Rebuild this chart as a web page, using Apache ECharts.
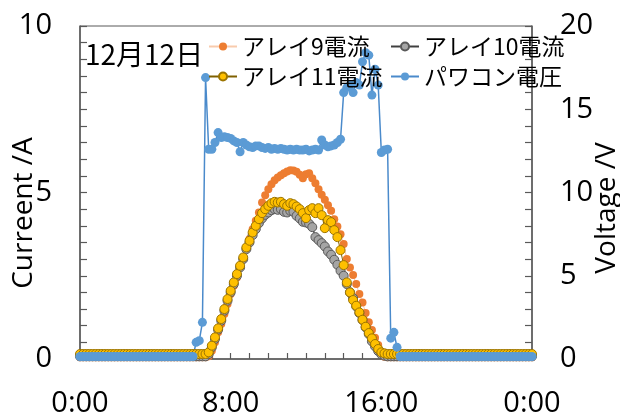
<!DOCTYPE html>
<html><head><meta charset="utf-8">
<script src="https://cdn.jsdelivr.net/npm/echarts@6/dist/echarts.min.js"></script>
<style>html,body{margin:0;padding:0;background:#fff;}#c{width:620px;height:419px;}</style>
</head><body><div id="c"></div>
<script>
// 10-minute samples from 0:00 to 24:00 (145 points)
const times = [];
for (let i = 0; i <= 144; i++) {
  const h = Math.floor(i / 6) % 24, m = (i % 6) * 10;
  times.push(h + ':' + (m < 10 ? '0' + m : m));
}
const seriesNames = ['アレイ9電流', 'アレイ10電流', 'アレイ11電流', 'パワコン電圧'];
const titleText = '12月12日';
const xTickLabels = ['0:00', '8:00', '16:00', '0:00'];
const leftAxisTitle = 'Curreent /A';
const rightAxisTitle = 'Voltage /V';

// アレイ9電流 (A)
const array9 = [
0.05,0.05,0.05,0.05,0.05,0.05,0.05,0.05,0.05,0.05,
0.05,0.05,0.05,0.05,0.05,0.05,0.05,0.05,0.05,0.05,
0.05,0.05,0.05,0.05,0.05,0.05,0.05,0.05,0.05,0.05,
0.05,0.05,0.05,0.05,0.05,0.05,0.05,0.05,0.05,0.05,
0.05,
0.08,0.25,0.5,0.8,1.05,1.35,1.65,1.95,2.2,2.45,
2.75,3.0,3.3,3.6,3.9,4.15,4.4,4.7,4.92,5.1,
5.25,5.37,5.45,5.52,5.58,5.63,5.67,5.66,5.62,5.53,
5.43,5.55,5.58,5.43,5.28,5.1,4.93,4.78,4.62,4.45,
4.2,3.98,3.75,3.45,3.0,2.75,2.52,2.25,1.95,1.7,
1.38,1.1,0.87,0.64,0.42,0.2,0.07,
0.05,0.05,0.05,0.05,0.05,0.05,0.05,0.05,0.05,0.05,
0.05,0.05,0.05,0.05,0.05,0.05,0.05,0.05,0.05,0.05,
0.05,0.05,0.05,0.05,0.05,0.05,0.05,0.05,0.05,0.05,
0.05,0.05,0.05,0.05,0.05,0.05,0.05,0.05,0.05,0.05,
0.05,0.05,0.05,0.05,0.05,0.05,0.05
];
// アレイ10電流 (A)
const array10 = [
0.08,0.08,0.08,0.08,0.08,0.08,0.08,0.08,0.08,0.08,
0.08,0.08,0.08,0.08,0.08,0.08,0.08,0.08,0.08,0.08,
0.08,0.08,0.08,0.08,0.08,0.08,0.08,0.08,0.08,0.08,
0.08,0.08,0.08,0.08,0.08,0.08,0.08,0.08,0.08,0.08,
0.08,
0.15,0.35,0.6,0.88,1.15,1.45,1.75,2.0,2.25,2.5,
2.75,3.0,3.3,3.5,3.72,3.9,4.08,4.22,4.33,4.4,
4.47,4.5,4.48,4.5,4.42,4.4,4.45,4.42,4.3,4.22,
4.12,4.1,4.06,3.96,3.66,3.57,3.48,3.38,3.23,3.13,
2.98,2.83,2.65,2.5,2.25,2.0,1.83,1.58,1.38,1.17,
0.95,0.75,0.53,0.38,0.24,0.14,0.1,
0.08,0.08,0.08,0.08,0.08,0.08,0.08,0.08,0.08,0.08,
0.08,0.08,0.08,0.08,0.08,0.08,0.08,0.08,0.08,0.08,
0.08,0.08,0.08,0.08,0.08,0.08,0.08,0.08,0.08,0.08,
0.08,0.08,0.08,0.08,0.08,0.08,0.08,0.08,0.08,0.08,
0.08,0.08,0.08,0.08,0.08,0.08,0.08
];
// アレイ11電流 (A)
const array11 = [
0.15,0.15,0.15,0.15,0.15,0.15,0.15,0.15,0.15,0.15,
0.15,0.15,0.15,0.15,0.15,0.15,0.15,0.15,0.15,0.15,
0.15,0.15,0.15,0.15,0.15,0.15,0.15,0.15,0.15,0.15,
0.15,0.15,0.15,0.15,0.15,0.15,0.15,0.15,0.15,0.15,
0.15,
0.2,0.4,0.65,0.92,1.2,1.5,1.8,2.05,2.3,2.55,
2.8,3.05,3.35,3.55,3.8,4.0,4.2,4.38,4.5,4.6,
4.68,4.72,4.7,4.72,4.65,4.6,4.68,4.65,4.58,4.5,
4.38,4.23,4.47,4.53,4.38,4.53,4.32,3.93,4.17,4.11,
3.87,3.66,3.27,2.82,2.3,2.0,1.77,1.6,1.4,1.18,
0.97,0.78,0.62,0.45,0.3,0.2,0.17,0.15,
0.15,0.15,0.15,0.15,0.15,0.15,0.15,0.15,0.15,0.15,
0.15,0.15,0.15,0.15,0.15,0.15,0.15,0.15,0.15,0.15,
0.15,0.15,0.15,0.15,0.15,0.15,0.15,0.15,0.15,0.15,
0.15,0.15,0.15,0.15,0.15,0.15,0.15,0.15,0.15,0.15,
0.15,0.15,0.15,0.15,0.15,0.15
];
// パワコン電圧 (V)
const pcsVoltage = [
0.15,0.15,0.15,0.15,0.15,0.15,0.15,0.15,0.15,0.15,
0.15,0.15,0.15,0.15,0.15,0.15,0.15,0.15,0.15,0.15,
0.15,0.15,0.15,0.15,0.15,0.15,0.15,0.15,0.15,0.15,
0.15,0.15,0.15,0.15,0.15,0.15,0.15,
1.0,1.1,2.2,16.9,12.6,12.6,13.0,13.6,13.3,13.35,
13.3,13.25,13.1,13.0,12.45,13.0,12.85,12.75,12.7,12.8,
12.8,12.7,12.65,12.7,12.6,12.65,12.6,12.65,12.6,12.55,
12.6,12.55,12.6,12.55,12.55,12.6,12.5,12.55,12.6,12.55,
13.15,12.85,12.75,12.8,12.85,13.0,13.2,16.0,16.3,16.45,
16.0,16.6,16.45,17.85,18.4,18.25,15.85,17.4,16.45,12.4,
12.55,12.6,1.25,1.6,0.7,
0.15,0.15,0.15,0.15,0.15,0.15,0.15,0.15,0.15,0.15,
0.15,0.15,0.15,0.15,0.15,0.15,0.15,0.15,0.15,0.15,
0.15,0.15,0.15,0.15,0.15,0.15,0.15,0.15,0.15,0.15,
0.15,0.15,0.15,0.15,0.15,0.15,0.15,0.15,0.15,0.15,
0.15,0.15,0.15
];

const axisColor = '#595959';
const numFont = "'Liberation Sans Narrow', 'Open Sans', sans-serif";
const jpFont = "'Noto Sans CJK JP', sans-serif";

const chart = echarts.init(document.getElementById('c'), null, {renderer: 'canvas'});
chart.setOption({
  animation: false,
  backgroundColor: '#fff',
  grid: {left: 80, right: 88, top: 26, bottom: 60, containLabel: false, outerBoundsMode: 'none',
    show: true, borderColor: axisColor, borderWidth: 1, backgroundColor: 'transparent'},
  graphic: [{
    type: 'text', left: 85, top: 40,
    style: {text: titleText, font: "28px 'Noto Sans CJK JP'", fill: '#000'}
  }, {
    type: 'text', x: 24, y: 213, rotation: Math.PI / 2,
    style: {text: leftAxisTitle, font: "28px 'Open Sans'", fill: '#000', align: 'center', verticalAlign: 'middle'}
  }, {
    type: 'text', x: 607, y: 208, rotation: Math.PI / 2,
    style: {text: rightAxisTitle, font: "28px 'Open Sans'", fill: '#000', align: 'center', verticalAlign: 'middle'}
  }],
  legend: [{
    data: [seriesNames[0], seriesNames[2]], orient: 'vertical', left: 203, top: 30,
    itemWidth: 28, itemHeight: 10, itemGap: 7, selectedMode: false,
    textStyle: {fontFamily: jpFont, fontSize: 23, color: '#000'}
  }, {
    data: [seriesNames[1], seriesNames[3]], orient: 'vertical', left: 385, top: 30,
    itemWidth: 28, itemHeight: 10, itemGap: 7, selectedMode: false,
    textStyle: {fontFamily: jpFont, fontSize: 23, color: '#000'}
  }],
  xAxis: {
    type: 'category', data: times, boundaryGap: false,
    axisLine: {lineStyle: {color: axisColor, width: 1.5}},
    axisTick: {inside: true, interval: 5, length: 6, lineStyle: {color: axisColor, width: 1.2}},
    axisLabel: {interval: 47, margin: 30, fontFamily: numFont, fontSize: 29, color: '#000',
      formatter: function (v, idx) { return xTickLabels[Math.round(idx / 48)]; }},
    splitLine: {show: false}
  },
  yAxis: [{
    type: 'value', min: 0, max: 10, interval: 5, position: 'left',
    axisLine: {show: true, lineStyle: {color: axisColor, width: 1.5}},
    axisTick: {show: true, inside: true, length: 7, lineStyle: {color: axisColor, width: 1.2}},
    minorTick: {show: true, splitNumber: 10, length: 7, lineStyle: {color: axisColor, width: 1.2}},
    axisLabel: {margin: 28, fontFamily: numFont, fontSize: 29, color: '#000'},
    splitLine: {show: false}, minorSplitLine: {show: false}
  }, {
    type: 'value', min: 0, max: 20, interval: 5, position: 'right',
    axisLine: {show: true, lineStyle: {color: axisColor, width: 1.5}},
    axisTick: {show: true, inside: true, length: 7, lineStyle: {color: axisColor, width: 1.2}},
    minorTick: {show: true, splitNumber: 5, length: 7, lineStyle: {color: axisColor, width: 1.2}},
    axisLabel: {margin: 28, fontFamily: numFont, fontSize: 29, color: '#000'},
    splitLine: {show: false}, minorSplitLine: {show: false}
  }],
  series: [{
    name: seriesNames[0], type: 'line', yAxisIndex: 0, data: array9,
    symbol: 'circle', symbolSize: 8, showAllSymbol: true,
    itemStyle: {color: '#ED7D31'}, lineStyle: {color: '#F8CBAD', width: 1}
  }, {
    name: seriesNames[1], type: 'line', yAxisIndex: 0, data: array10,
    symbol: 'circle', symbolSize: 9, showAllSymbol: true,
    itemStyle: {color: '#A5A5A5', borderColor: '#595959', borderWidth: 1}, lineStyle: {color: '#404040', width: 1.5}
  }, {
    name: seriesNames[2], type: 'line', yAxisIndex: 0, data: array11,
    symbol: 'circle', symbolSize: 9, showAllSymbol: true,
    itemStyle: {color: '#FFC000', borderColor: '#9C7400', borderWidth: 1}, lineStyle: {color: '#7F6000', width: 1}
  }, {
    name: seriesNames[3], type: 'line', yAxisIndex: 1, data: pcsVoltage,
    symbol: 'circle', symbolSize: 9, showAllSymbol: true,
    itemStyle: {color: '#5B9BD5'}, lineStyle: {color: '#4A8ACB', width: 1.5}
  }]
});
</script></body></html>
